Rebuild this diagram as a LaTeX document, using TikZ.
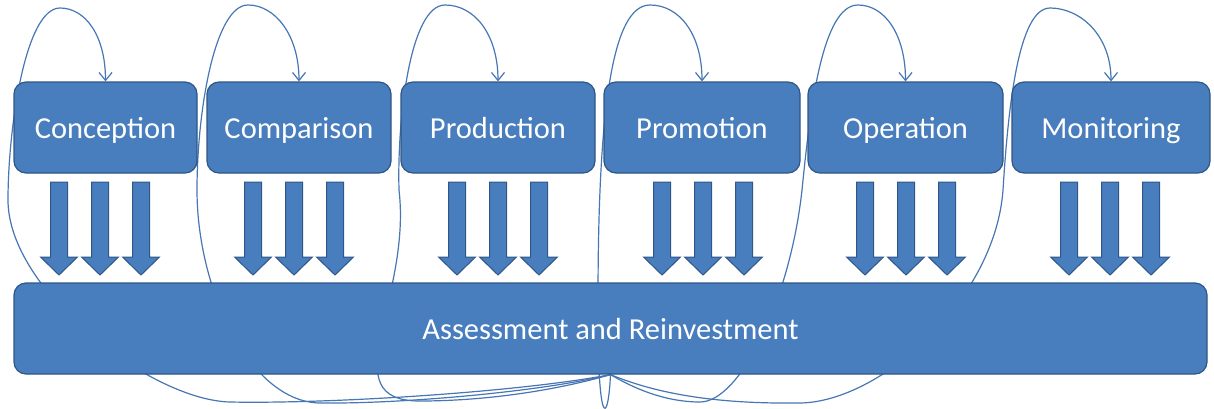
\documentclass[tikz,border=0pt]{standalone}
\usepackage{fontspec}
\setmainfont{Carlito}
\usetikzlibrary{calc,arrows.meta,backgrounds}
\definecolor{boxblue}{RGB}{72,126,189}
\definecolor{boxedge}{RGB}{47,86,135}
\definecolor{loopblue}{RGB}{70,118,180}

\begin{document}
\begin{tikzpicture}[x=1pt,y=-1pt,
        stage/.style={draw=boxedge,line width=1.2pt,fill=boxblue,rounded corners=12pt,
            minimum height=91pt,inner sep=0pt,text height=28pt,text depth=6pt,
            text=white,font=\fontsize{30.5}{33}\selectfont},
        loopback/.style={draw=loopblue,line width=1.2pt,-{Straight Barb[length=8pt,width=13pt]}},
        downarrow/.style={draw=boxedge,line width=1pt,fill=boxblue}]
            \useasboundingbox (0,0) rectangle (1214,408);
            \node[stage,minimum width=183pt] (conc) at (105.5,127.5) {Conception};
            \node[stage,minimum width=184pt] (comp) at (299,127.5) {Comparison};
            \node[stage,minimum width=194pt] (prod) at (498,127.5) {Production};
            \node[stage,minimum width=196pt] (prom) at (702,127.5) {Promotion};
            \node[stage,minimum width=195pt] (oper) at (905.5,127.5) {Operation};
            \node[stage,minimum width=198pt] (moni) at (1111,127.5) {Monitoring};
            \node[stage,minimum width=1193pt] (assess) at (610.5,328.5) {Assessment and Reinvestment};
            \foreach \x in {100,294,498,703,906,1110}
                \foreach \dx in {-41,0,41}
                    \draw[downarrow] (\x+\dx-8.5,182) -- ++(17,0) -- ++(0,75) -- ++(10,0)
                        -- ++(-18.5,18) -- ++(-18.5,-18) -- ++(10,0) -- cycle;
            \begin{scope}[on background layer]
                \draw[loopback] (assess.south) .. controls (520,392) and (330,404) .. (230,402)
                    .. controls (150,400) and (8,290) .. (8,200) .. controls (8,130) and (25,8) .. (60,8)
                    .. controls (85,8) and (105.5,35) .. (conc.north);
                \draw[loopback] (assess.south) .. controls (540,392) and (400,404) .. (320,403)
                    .. controls (250,402) and (197,290) .. (197,190) .. controls (197,110) and (215,5) .. (248,5)
                    .. controls (275,5) and (299,35) .. (comp.north);
                \draw[loopback] (assess.south) .. controls (550,392) and (480,401) .. (420,401)
                    .. controls (330,401) and (412,300) .. (399,190) .. controls (397,120) and (410,5) .. (445,5)
                    .. controls (475,5) and (498,35) .. (prod.north);
                \draw[loopback] (assess.south) .. controls (608,428) and (597,428) .. (598,300)
                    .. controls (598,110) and (612,5) .. (650,5)
                    .. controls (680,5) and (702,35) .. (prom.north);
                \draw[loopback] (assess.south) .. controls (640,392) and (670,402) .. (700,402)
                    .. controls (740,402) and (790,300) .. (802,190) .. controls (810,110) and (822,5) .. (858,5)
                    .. controls (885,5) and (905.5,35) .. (oper.north);
                \draw[loopback] (assess.south) .. controls (660,395) and (720,404) .. (800,403)
                    .. controls (880,402) and (995,300) .. (1003,190) .. controls (1008,110) and (1018,8) .. (1050,8)
                    .. controls (1080,8) and (1111,35) .. (moni.north);
            \end{scope}
        \end{tikzpicture}
\end{document}
